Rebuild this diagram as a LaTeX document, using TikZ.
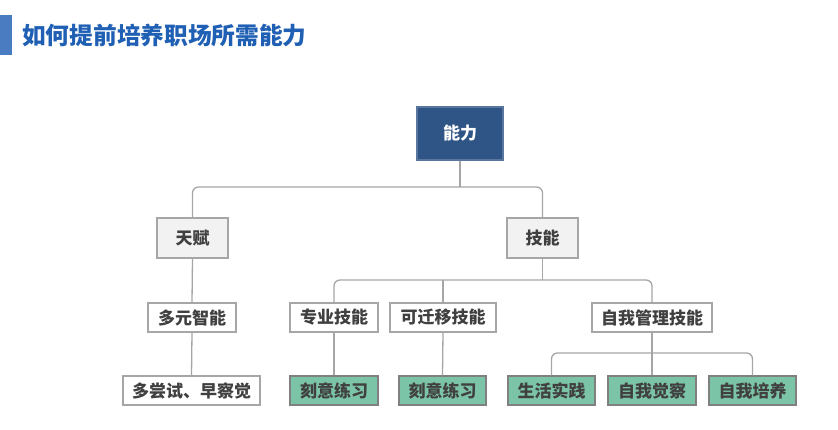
\documentclass[tikz,border=0pt]{standalone}
\usepackage{fontspec}
\setmainfont{Noto Sans CJK SC}
\definecolor{titleblue}{HTML}{1F5FB4}
\definecolor{barblue}{HTML}{4A7CC2}
\definecolor{rootblue}{HTML}{2F5586}
\definecolor{linegray}{HTML}{A6A6A6}
\definecolor{boxgray}{HTML}{F2F2F2}
\definecolor{greenfill}{HTML}{7CC4A7}
\definecolor{txtgray}{HTML}{404040}
\begin{document}
\begin{tikzpicture}[x=1pt,y=-1pt,
  base/.style={draw=linegray, line width=1.3pt, inner sep=0pt, font=\fontsize{17}{17}\selectfont\bfseries, text=txtgray},
  rootbox/.style={base, fill=rootblue, text=white, draw=rootblue!80!white},
  graybox/.style={base, fill=boxgray, minimum height=40pt},
  whitebox/.style={base, fill=white, minimum height=29pt},
  greenbox/.style={base, fill=greenfill, draw=gray, minimum height=29pt},
  conn/.style={draw=linegray, line width=1.3pt},
  rconn/.style={conn, rounded corners=6pt}]
\useasboundingbox (0,0) rectangle (838,429);
% title
\fill[barblue] (0,15) rectangle (12,55);
\node[anchor=west, inner sep=0pt, text=titleblue, font=\fontsize{23.7}{24}\selectfont\bfseries] (title) at (22,35) {如何提前培养职场所需能力};
% nodes
\node[rootbox, minimum width=86pt, minimum height=53pt] (root) at (460,133.5) {能力};
\node[graybox, minimum width=71pt] (tianfu) at (192.5,238) {天赋};
\node[graybox, minimum width=71pt] (jineng) at (542.5,238) {技能};
\node[whitebox, minimum width=88pt] (duoyuan) at (192,317.5) {多元智能};
\node[whitebox, minimum width=88pt] (zhuanye) at (334,317.5) {专业技能};
\node[whitebox, minimum width=106pt] (kqy) at (443,317.5) {可迁移技能};
\node[whitebox, minimum width=120pt] (ziwo) at (652,317.5) {自我管理技能};
\node[whitebox, minimum width=137pt] (duochang) at (191.5,390.5) {多尝试、早察觉};
\node[greenbox, minimum width=88pt] (keyi1) at (334,390.5) {刻意练习};
\node[greenbox, minimum width=87pt] (keyi2) at (442.5,390.5) {刻意练习};
\node[greenbox, minimum width=87pt] (shenghuo) at (551.5,390.5) {生活实践};
\node[greenbox, minimum width=88pt] (juecha) at (652,390.5) {自我觉察};
\node[greenbox, minimum width=87pt] (peiyang) at (752.5,390.5) {自我培养};
% junctions
\coordinate (j1) at (460,187);
\coordinate (j2) at (542.5,280);
\coordinate (j3) at (652,353);
% connectors
\draw[conn] (root.south) -- (j1);
\draw[rconn] (tianfu.north) |- (j1) -| (jineng.north);
\draw[conn] (jineng.south) -- (j2);
\draw[rconn] (zhuanye.north) |- (j2) -| (ziwo.north);
\draw[conn] (kqy.north) -- (kqy.north |- j2);
\draw[conn] (tianfu.south) -- (duoyuan.north);
\draw[conn] (duoyuan.south) -- (duochang.north);
\draw[conn] (zhuanye.south) -- (keyi1.north);
\draw[conn] (kqy.south) -- (keyi2.north);
\draw[conn] (ziwo.south) -- (juecha.north);
\draw[rconn] (shenghuo.north) |- (j3) -| (peiyang.north);
\end{tikzpicture}
\end{document}
